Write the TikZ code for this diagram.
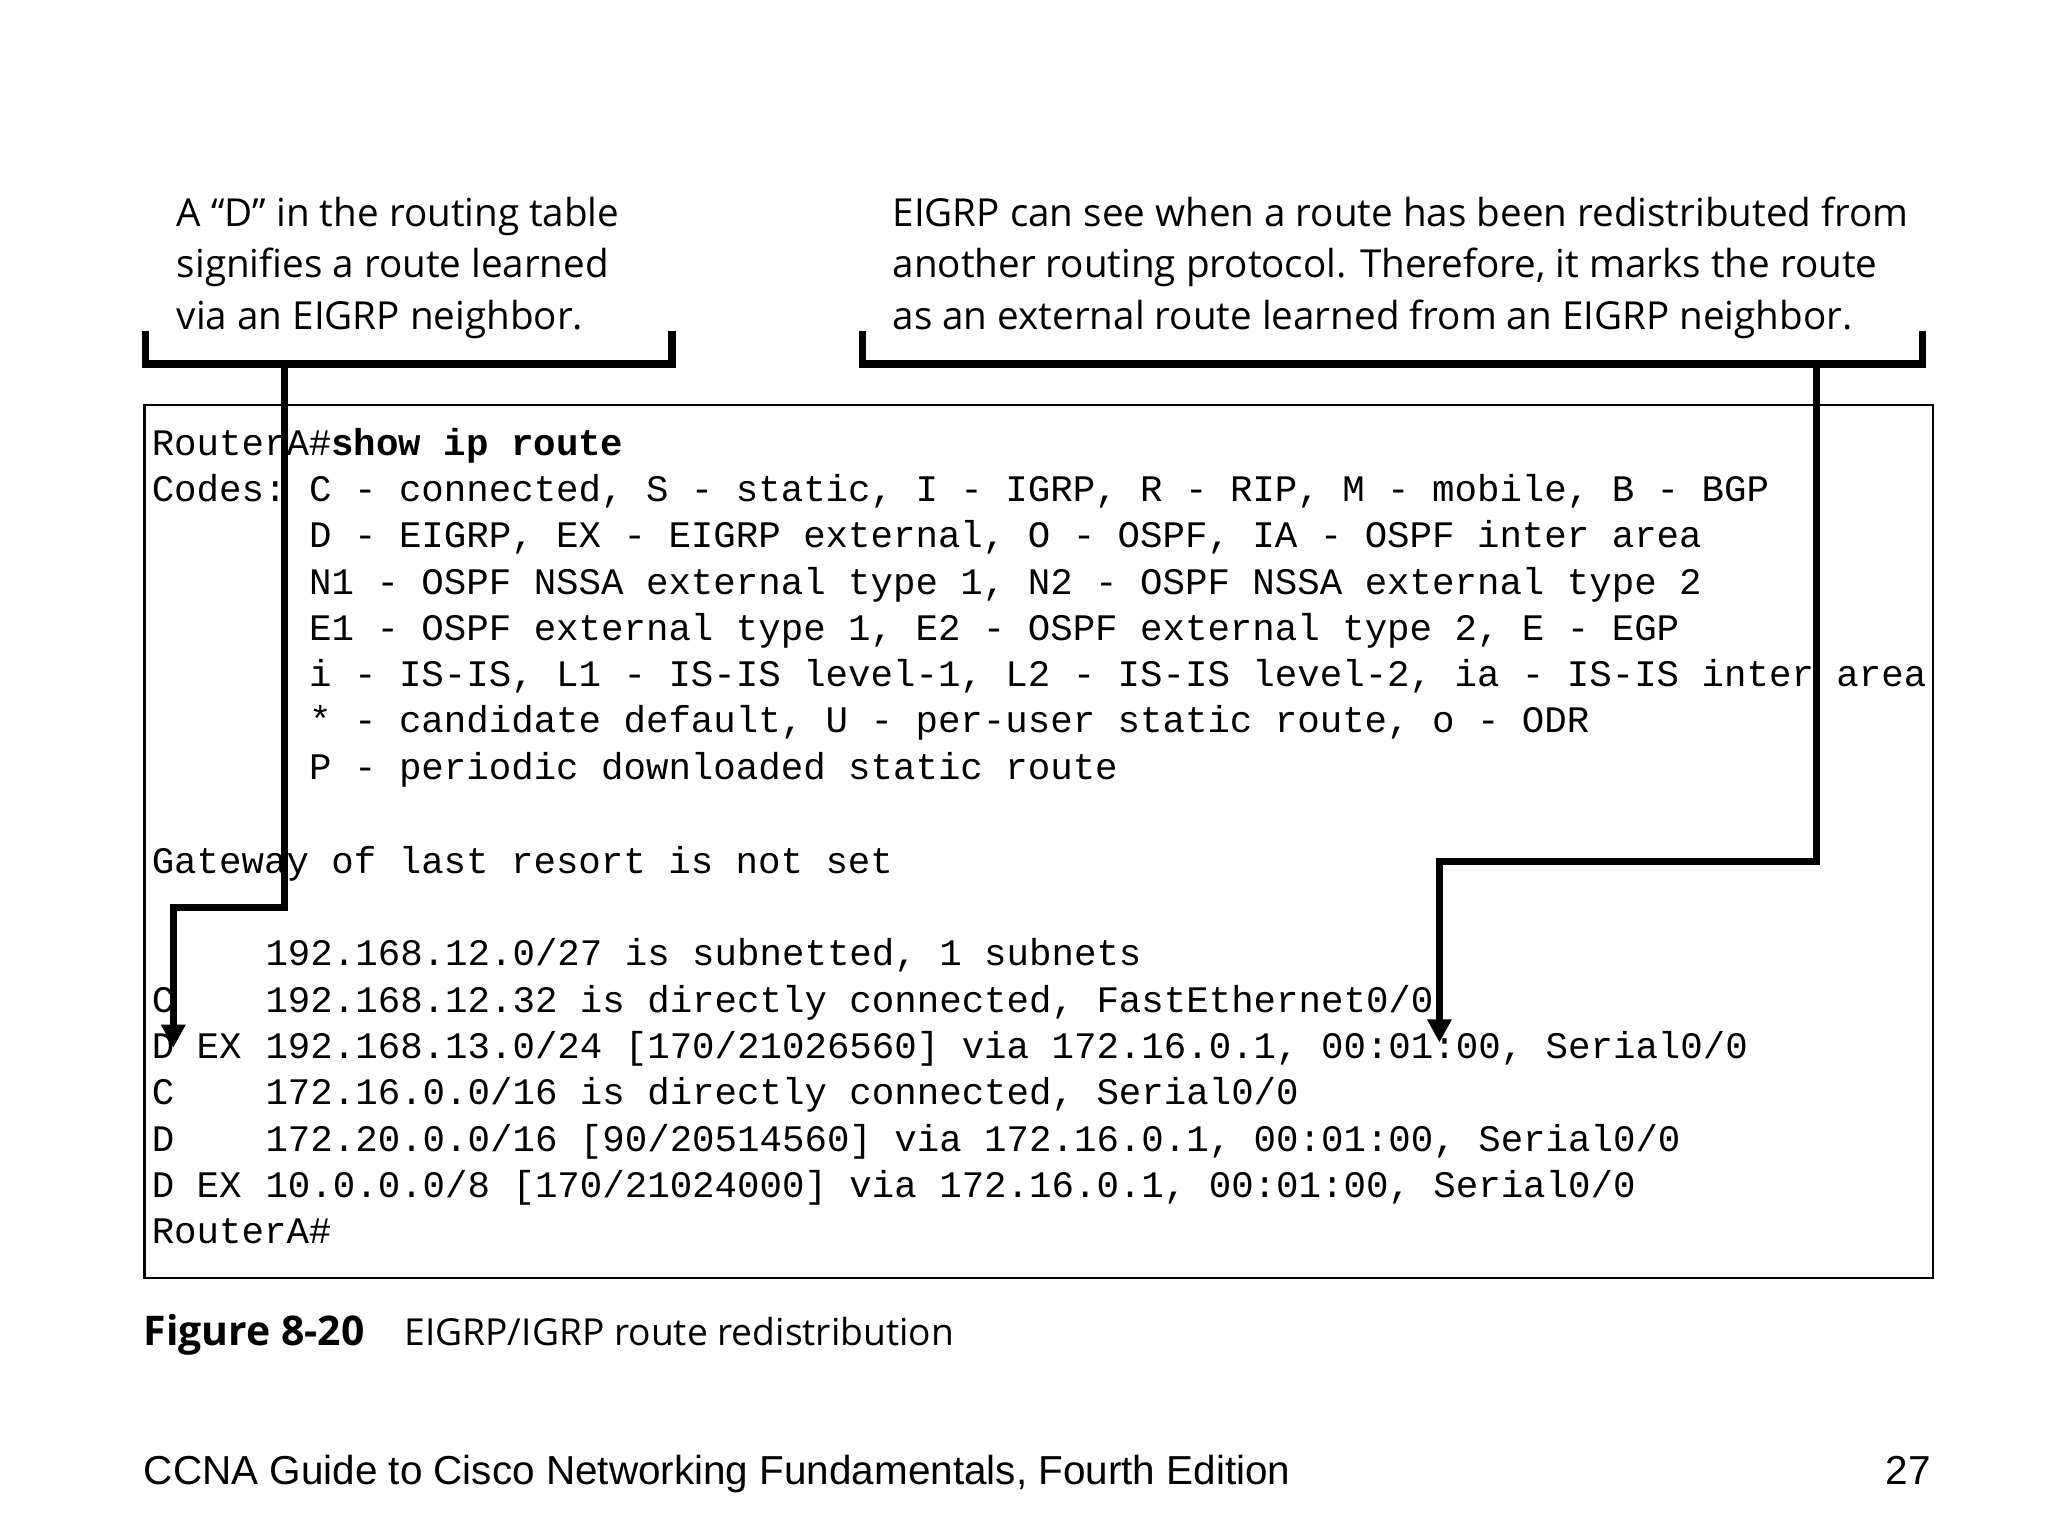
\documentclass[tikz,border=0pt]{standalone}
\usepackage{fontspec}
\setmainfont{Open Sans}
\setmonofont{Liberation Mono}
\newfontfamily\footfont{Liberation Sans}
\usetikzlibrary{arrows.meta}
\begin{document}
\begin{tikzpicture}[x=1cm,y=-1cm]
    \tikzstyle{code} = [anchor=base west, inner sep=0pt, font=\ttfamily\fontsize{8.05}{10}\selectfont]
    \tikzstyle{callout} = [anchor=north west, inner sep=0pt, align=left, font=\fontsize{8.3}{11.1}\selectfont]
    \tikzstyle{bracket} = [line width=1.6pt]
    \tikzstyle{pointer} = [line width=1.6pt, -{Triangle[length=5pt,width=5pt]}]
    \useasboundingbox (0,0) rectangle (15.48,11.61);

    % Callout texts
    \node [callout] (note_d) at (1.33,1.48) {A “D” in the routing table\\signifies a route learned\\via an EIGRP neighbor.};
    \node [callout] (note_ex) at (6.74,1.48) {EIGRP can see when a route has been redistributed from\\another routing protocol. Therefore, it marks the route\\as an external route learned from an EIGRP neighbor.};

    % Brackets
    \draw [bracket] (1.10,2.50) -- (1.10,2.75) -- (5.08,2.75) -- (5.08,2.50);
    \draw [bracket] (6.52,2.50) -- (6.52,2.75) -- (14.53,2.75) -- (14.53,2.50);

    % Output box
    \node [draw, line width=0.6pt, minimum width=13.52cm, minimum height=6.60cm, anchor=north west, inner sep=0pt] (output) at (1.08,3.05) {};

    % Router output lines
    \node [code] (l1) at (1.14,3.44) {RouterA\#\textbf{show ip route}};
    \node [code] (l2) at (1.14,3.79) {Codes:};
    \node [code] (l2b) at (2.33,3.79) {C - connected, S - static, I - IGRP, R - RIP, M - mobile, B - BGP};
    \node [code] (l3) at (2.33,4.14) {D - EIGRP, EX - EIGRP external, O - OSPF, IA - OSPF inter area};
    \node [code] (l4) at (2.33,4.49) {N1 - OSPF NSSA external type 1, N2 - OSPF NSSA external type 2};
    \node [code] (l5) at (2.33,4.84) {E1 - OSPF external type 1, E2 - OSPF external type 2, E - EGP};
    \node [code] (l6) at (2.33,5.19) {i - IS-IS, L1 - IS-IS level-1, L2 - IS-IS level-2, ia - IS-IS inter area};
    \node [code] (l7) at (2.33,5.54) {* - candidate default, U - per-user static route, o - ODR};
    \node [code] (l8) at (2.33,5.89) {P - periodic downloaded static route};
    \node [code] (l9) at (1.14,6.60) {Gateway of last resort is not set};
    \node [code] (l10) at (2.00,7.30) {192.168.12.0/27 is subnetted, 1 subnets};
    \node [code] (l11a) at (1.14,7.65) {C};
    \node [code] (l11) at (2.00,7.65) {192.168.12.32 is directly connected, FastEthernet0/0};
    \node [code] (l12a) at (1.14,8.00) {D EX};
    \node [code] (l12) at (2.00,8.00) {192.168.13.0/24 [170/21026560] via 172.16.0.1, 00:01:00, Serial0/0};
    \node [code] (l13a) at (1.14,8.35) {C};
    \node [code] (l13) at (2.00,8.35) {172.16.0.0/16 is directly connected, Serial0/0};
    \node [code] (l14a) at (1.14,8.70) {D};
    \node [code] (l14) at (2.00,8.70) {172.20.0.0/16 [90/20514560] via 172.16.0.1, 00:01:00, Serial0/0};
    \node [code] (l15a) at (1.14,9.05) {D EX};
    \node [code] (l15) at (2.00,9.05) {10.0.0.0/8 [170/21024000] via 172.16.0.1, 00:01:00, Serial0/0};
    \node [code] (l16) at (1.14,9.40) {RouterA\#};

    % Arrows
    \coordinate (d_start) at (2.15,2.75);
    \coordinate (d_end) at (1.31,7.92);
    \coordinate (ex_start) at (13.73,2.75);
    \coordinate (ex_end) at (10.88,7.88);
    \draw [pointer] (d_start) -- (2.15,6.86) -- (1.31,6.86) -- (d_end);
    \draw [pointer] (ex_start) -- (13.73,6.51) -- (10.88,6.51) -- (ex_end);

    % Caption and footer
    \node [anchor=base west, inner sep=0pt, font=\bfseries\fontsize{8.8}{12}\selectfont] (fig) at (1.08,10.17) {Figure 8-20};
    \node [anchor=base west, inner sep=0pt, font=\fontsize{8}{12}\selectfont] (caption) at (3.05,10.17) {EIGRP/IGRP route redistribution};
    \node [anchor=base west, inner sep=0pt, font=\footfont\fontsize{8.7}{12}\selectfont] (footer) at (1.08,11.22) {CCNA Guide to Cisco Networking Fundamentals, Fourth Edition};
    \node [anchor=base east, inner sep=0pt, font=\footfont\fontsize{8.7}{12}\selectfont] (page) at (14.60,11.22) {27};
\end{tikzpicture}
\end{document}
